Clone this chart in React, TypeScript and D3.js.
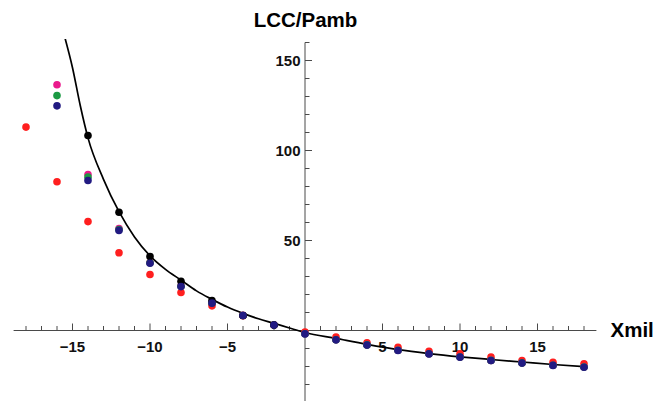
import React from "react";
import * as d3 from "d3";

// Sample positions along Xmil
const xValues = [-18, -16, -14, -12, -10, -8, -6, -4, -2, 0, 2, 4, 6, 8, 10, 12, 14, 16, 18];

// LCC/Pamb measurements per series (null = no point)
const redValues = [113, 82.6, 60.5, 43.2, 31.1, 21.1, 13.7, 8.2, 3.0, -0.9, -3.7, -6.8, -9.3, -11.5, -13.0, -14.8, -16.7, -17.6, -18.5];
const magentaValues = [null, 136.5, 86.7, 56.6, 37.8, 24.8, 15.4, 8.4, 3.0, -1.8, -5.1, -8.0, -11.0, -12.9, -14.7, -16.6, -18.0, -19.3, -20.3];
const greenValues = [null, 130.5, 85.2, 56.1, 37.6, 24.6, 15.3, 8.3, 3.0, -1.8, -5.1, -8.0, -11.0, -12.9, -14.7, -16.6, -18.0, -19.3, -20.3];
const blackValues = [null, null, 108.3, 65.7, 41.1, 27.4, 16.7, 8.3, 3.0, null, null, null, null, null, null, null, null, null, null];
const navyValues = [null, 124.8, 83.3, 55.6, 37.4, 24.4, 15.2, 8.3, 3.0, -1.9, -5.2, -8.1, -11.1, -13.0, -14.8, -16.7, -18.1, -19.4, -20.4];

// Fitted curve, sampled along x
const curveX = [-15.5, -15, -14.5, -14, -13, -12, -11, -10, -9, -8, -7, -6, -5, -4, -3, -2, -1, 0, 2, 4, 6, 8, 10, 12, 14, 16, 18];
const curveY = [163, 146, 125, 107, 84, 66, 52, 41.5, 34, 28, 22, 17.3, 13, 9.5, 6.5, 4, 1.4, -1.1, -4.4, -7.7, -10.6, -12.8, -14.6, -16.1, -17.5, -18.9, -20.1];

// Axis ticks
const xMajorTicks = [-15, -10, -5, 5, 10, 15];
const yMajorTicks = [50, 100, 150];

const seriesList = [
  { name: "red", values: redValues, color: "#ff1f1f" },
  { name: "magenta", values: magentaValues, color: "#ea1a8c" },
  { name: "green", values: greenValues, color: "#1b9a43" },
  { name: "black", values: blackValues, color: "#000000" },
  { name: "navy", values: navyValues, color: "#221a82" },
];

const W = 670;
const H = 401;

export default function App() {
  const x = d3.scaleLinear().domain([0, 10]).range([305, 460]);
  const y = d3.scaleLinear().domain([0, 50]).range([330.5, 240.5]);

  const xMin = -18.8;
  const xMax = 18.8;
  const yTop = 160;
  const yBottom = y.invert(H);

  const xMinor = d3.range(Math.ceil(xMin), Math.floor(xMax) + 1).filter((v) => v !== 0);
  const yMinor = d3.range(-30, 161, 10).filter((v) => v !== 0);

  const line = d3
    .line<number>()
    .x((_, i) => x(curveX[i]))
    .y((d) => y(d))
    .curve(d3.curveMonotoneX);

  const font = "'Liberation Sans', Arial, sans-serif";
  const axisColor = "#4a4a4a";

  return (
    <svg
      width={W}
      height={H}
      style={{ position: "absolute", left: 0, top: 0, background: "#fff" }}
      fontFamily={font}
    >
      <defs>
        <clipPath id="plotClip">
          <rect x={0} y={39} width={W} height={H - 39} />
        </clipPath>
      </defs>

      {/* x axis */}
      <line x1={x(xMin)} x2={x(xMax)} y1={y(0)} y2={y(0)} stroke={axisColor} strokeWidth={1} />
      {xMinor.map((v) => {
        const major = v % 5 === 0;
        return (
          <line
            key={"xt" + v}
            x1={x(v)}
            x2={x(v)}
            y1={y(0)}
            y2={y(0) - (major ? 7 : 4.5)}
            stroke={axisColor}
            strokeWidth={1}
          />
        );
      })}
      {xMajorTicks.map((v) => (
        <text
          key={"xl" + v}
          x={x(v)}
          y={351.5}
          textAnchor="middle"
          fontSize={15}
          fontWeight="bold"
          fill="#111"
        >
          {v < 0 ? "\u2212" + Math.abs(v) : String(v)}
        </text>
      ))}

      {/* y axis */}
      <line x1={x(0)} x2={x(0)} y1={y(yTop)} y2={y(yBottom)} stroke={axisColor} strokeWidth={1} />
      {yMinor.map((v) => {
        const major = v % 50 === 0;
        return (
          <line
            key={"yt" + v}
            x1={x(0)}
            x2={x(0) + (major ? 7 : 4.5)}
            y1={y(v)}
            y2={y(v)}
            stroke={axisColor}
            strokeWidth={1}
          />
        );
      })}
      {yMajorTicks.map((v) => (
        <text
          key={"yl" + v}
          x={x(0) - 4.5}
          y={y(v) + 5.5}
          textAnchor="end"
          fontSize={15}
          fontWeight="bold"
          fill="#111"
        >
          {v}
        </text>
      ))}

      {/* axis titles */}
      <text x={305.5} y={26.5} textAnchor="middle" fontSize={20.5} fontWeight="bold" fill="#000">
        LCC/Pamb
      </text>
      <text x={610.5} y={336.5} textAnchor="start" fontSize={20.5} fontWeight="bold" fill="#000">
        Xmil
      </text>

      {/* fitted curve */}
      <path
        d={line(curveY) || ""}
        fill="none"
        stroke="#000"
        strokeWidth={1.7}
        clipPath="url(#plotClip)"
      />

      {/* measured points */}
      {seriesList.map((s) => (
        <g key={s.name}>
          {s.values.map((v, i) =>
            v === null ? null : (
              <circle key={i} cx={x(xValues[i])} cy={y(v)} r={3.8} fill={s.color} />
            )
          )}
        </g>
      ))}
    </svg>
  );
}
